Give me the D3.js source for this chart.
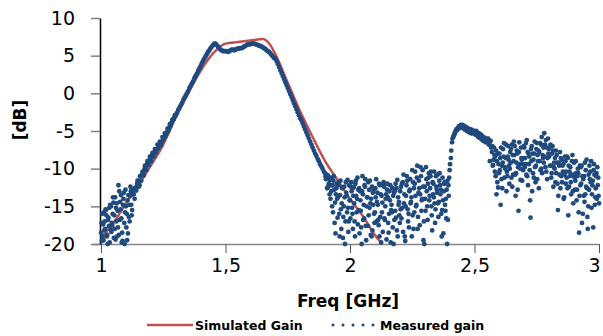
<!DOCTYPE html>
<html>
<head>
  <meta charset="UTF-8">
  <title>Gain vs frequency</title>
  <script src="https://d3js.org/d3.v7.min.js"></script>
  <style>
    body { margin: 0; background: #ffffff; }
    .tick text { font-family: "DejaVu Sans", sans-serif; font-size: 19px; fill: #000; }
  </style>
</head>
<body>
  <svg id="svg1" width="603" height="336"></svg>

  <script>
    // simulated gain (smooth curve)
    const simFreq = [1.00, 1.05, 1.10, 1.15, 1.20, 1.25, 1.30, 1.35, 1.40, 1.45, 1.50, 1.55, 1.60, 1.65, 1.68, 1.70, 1.75, 1.80, 1.85, 1.90, 1.95, 2.00, 2.05, 2.10, 2.13];
    const simGain = [-19.2, -17.2, -14.6, -12.2, -9.6, -6.8, -3.2, 0.0, 3.0, 5.3, 6.6, 6.8, 7.0, 7.2, 6.4, 5.2, 1.4, -2.4, -5.8, -9.0, -11.5, -14.0, -16.2, -18.8, -20.0];

    // measured gain, one value every 5 MHz from 1.000 to 3.000 GHz (one row = 100 MHz)
    const measGain = [
      -18.5, -16.0, -19.5, -17.0, -15.5, -18.8, -16.5, -19.8, -15.0, -17.5, -14.5, -18.0, -15.2, -19.0, -12.2, -16.8, -13.5, -18.5, -14.0, -20.0,
      -15.0, -19.5, -13.5, -17.0, -13.0, -15.5, -12.8, -14.0, -12.5, -12.0, -11.6, -12.2, -11.0, -10.8, -10.6, -10.0, -9.9, -9.4, -9.0, -8.8,
      -8.7, -8.2, -8.3, -7.8, -7.9, -7.4, -7.3, -6.9, -6.9, -6.4, -6.2, -5.8, -5.6, -5.2, -5.0, -4.5, -4.3, -3.8, -3.5, -3.2,
      -2.9, -2.6, -2.2, -1.9, -1.6, -1.3, -0.9, -0.6, -0.3, 0.0, 0.3, 0.7, 1.0, 1.3, 1.6, 2.0, 2.3, 2.6, 3.0, 3.3,
      3.6, 4.0, 4.3, 4.6, 4.9, 5.2, 5.5, 5.7, 6.0, 6.2, 6.4, 6.6, 6.6, 6.4, 6.2, 6.0, 5.8, 5.7, 5.6, 5.6,
      5.6, 5.6, 5.5, 5.6, 5.7, 5.8, 5.8, 5.7, 5.8, 5.9, 5.9, 6.0, 6.0, 6.0, 6.1, 6.2, 6.3, 6.4, 6.5, 6.5,
      6.5, 6.6, 6.6, 6.6, 6.5, 6.5, 6.4, 6.3, 6.3, 6.2, 6.1, 6.0, 5.9, 5.7, 5.6, 5.5, 5.3, 5.1, 4.9, 4.7,
      4.6, 4.3, 3.9, 3.5, 3.1, 2.7, 2.3, 1.9, 1.5, 1.1, 0.7, 0.3, -0.1, -0.5, -0.9, -1.3, -1.7, -2.1, -2.5, -2.9,
      -3.3, -3.6, -4.0, -4.4, -4.8, -5.2, -5.6, -6.0, -6.4, -6.8, -7.2, -7.6, -8.0, -8.3, -8.7, -9.0, -9.4, -9.7, -10.0, -10.4,
      -10.6, -11.2, -10.9, -12.0, -11.5, -13.0, -12.2, -11.0, -14.5, -12.6, -16.5, -11.8, -13.5, -18.0, -12.5, -15.0, -20.0, -13.2, -11.5, -17.0,
      -14.2, -11.8, -16.0, -12.5, -19.0, -13.6, -11.2, -15.5, -13.0, -17.8, -11.0, -14.8, -12.4, -19.5, -13.8, -16.2, -11.6, -14.0, -18.2, -12.8,
      -15.8, -11.4, -13.2, -17.5, -12.2, -19.8, -14.5, -11.8, -16.8, -13.4, -12.0, -18.5, -14.2, -15.5, -12.6, -20.0, -13.0, -16.5, -11.5, -14.8,
      -17.2, -12.4, -15.2, -10.8, -19.0, -13.6, -11.6, -16.0, -12.8, -14.4, -10.2, -18.0, -12.0, -15.0, -9.6, -13.2, -17.5, -11.0, -14.0, -19.5,
      -12.4, -9.8, -15.0, -11.2, -13.6, -10.4, -18.2, -12.0, -14.6, -11.0, -13.2, -16.4, -10.6, -12.8, -15.5, -18.6, -11.8, -14.0, -20.0, -12.2,
      -10.2, -8.6, -6.5, -5.8, -5.4, -5.0, -4.9, -4.6, -4.4, -4.2, -4.5, -4.3, -4.8, -4.5, -5.0, -4.7, -5.2, -4.8, -5.3, -5.0,
      -5.1, -5.5, -5.2, -5.8, -5.4, -6.0, -5.7, -6.3, -5.9, -6.5, -6.2, -6.0, -6.6, -6.3, -7.8, -9.5, -8.2, -11.0, -9.0, -12.5,
      -8.0, -14.8, -9.6, -7.4, -11.2, -8.6, -10.4, -7.0, -12.0, -9.2, -6.8, -10.8, -8.2, -13.6, -7.6, -9.8, -6.5, -11.5, -8.8, -10.2,
      -7.2, -9.4, -6.2, -12.2, -8.4, -16.5, -7.0, -10.6, -8.0, -11.8, -6.6, -9.0, -7.8, -10.2, -5.8, -8.6, -5.3, -9.8, -7.2, -6.0,
      -8.4, -6.8, -10.6, -7.6, -9.2, -11.8, -8.2, -15.5, -9.6, -12.6, -8.8, -10.4, -13.8, -9.0, -11.2, -8.6, -12.4, -9.8, -10.8, -13.0,
      -9.2, -11.6, -14.2, -10.0, -18.5, -12.2, -9.6, -16.0, -11.0, -13.4, -8.8, -18.0, -12.8, -10.4, -15.2, -11.6, -9.4, -13.8, -10.6, -12.2,
      -14.6
    ];

    // extra measured samples in between (the sweep is denser than 5 MHz), 5 MHz apart from their start
    const lowA2 = [-17.2, -19.0, -15.8, -18.0, -16.2, -20.0, -17.6, -14.8, -18.4, -16.0, -19.2, -13.8, -17.0, -15.6, -18.8, -14.4, -16.6, -19.6, -13.2, -15.8, -17.8, -14.2, -16.4, -13.6, -14.8, -13.4];
    const lowA3 = [-19.6, -17.4, -18.2, -15.4, -19.0, -16.8, -15.2, -18.0, -17.2, -13.8, -16.2, -19.4, -14.6, -17.8, -13.0, -15.4, -19.8, -14.8, -17.2, -12.8, -16.0, -18.6, -14.8, -12.4, -16.2, -13.0];
    const riseR2 = [-13.4, -12.6, -12.9, -11.6, -12.4, -11.0, -11.6, -10.4, -10.9, -9.6, -10.2, -9.0, -9.5, -8.4, -9.0, -7.9, -8.4, -7.4, -7.6, -6.8,
      -7.0, -6.4, -6.5, -5.8, -6.0, -5.3, -5.4, -4.7, -4.8, -4.1, -4.0, -3.5, -3.4, -2.9];
    const noiseB2 = [
      -11.0, -10.8, -12.4, -11.4, -14.0, -11.2, -15.8, -12.8, -18.6, -12.0, -13.8, -16.0, -11.6, -14.6, -19.2, -12.4, -17.0, -13.6, -15.2, -12.2,
      -16.6, -13.0, -18.0, -14.6, -12.0, -15.8, -17.4, -12.6, -14.2, -20.0, -13.4, -16.6, -11.4, -15.0, -17.6, -12.8, -14.6, -19.0, -13.2, -16.0,
      -12.6, -17.0, -14.8, -12.0, -16.4, -13.6, -18.4, -12.4, -15.0, -19.4, -13.8, -16.0, -12.2, -14.8, -17.8, -13.2, -15.6, -12.6, -19.0, -14.4,
      -13.0, -16.6, -11.8, -14.6, -19.6, -12.2, -15.4, -17.8, -11.4, -13.8, -16.2, -12.6, -10.4, -14.8, -18.0, -11.6, -13.4, -15.6, -10.2, -17.0,
      -14.0, -11.4, -16.8, -10.6, -12.6, -15.0, -11.8, -13.8, -17.2, -12.4, -10.8, -14.4, -12.2, -16.0, -11.2, -13.0, -14.8, -16.6, -11.6, -13.6
    ];
    const noiseB3 = [
      -11.4, -12.6, -11.0, -13.4, -12.2, -15.0, -11.6, -17.2, -13.4, -14.0, -12.2, -19.0, -15.4, -12.6, -16.4, -13.8, -11.8, -15.8, -18.4, -14.2,
      -12.4, -15.2, -13.6, -17.0, -11.6, -14.0, -12.8, -18.6, -15.6, -13.0, -16.8, -12.2, -17.6, -13.8, -11.8, -15.2, -18.8, -12.4, -14.8, -17.2,
      -13.8, -14.4, -16.8, -19.0, -13.4, -15.8, -12.2, -16.6, -14.0, -12.8, -17.2, -13.0, -19.8, -15.8, -13.6, -16.8, -12.0, -18.2, -13.8, -16.2,
      -15.4, -12.0, -18.4, -13.4, -15.0, -11.0, -17.0, -13.0, -14.6, -19.0, -11.8, -15.8, -13.6, -11.2, -16.4, -12.6, -9.8, -14.2, -12.4, -20.0,
      -15.6, -13.0, -12.0, -14.2, -11.0, -16.2, -13.4, -10.4, -15.4, -12.8, -14.6, -11.6, -13.4, -19.0, -14.2, -12.0, -15.6, -12.8, -16.8, -11.2
    ];
    const plateauP2 = [-9.4, -7.6, -6.0, -5.6, -5.2, -4.8, -4.7, -4.4, -4.6, -4.3, -4.2, -4.6, -4.4, -4.9, -4.6, -5.1, -4.8, -5.3, -4.9, -5.2,
      -5.4, -5.0, -5.6, -5.3, -5.9, -5.5, -6.2, -5.8, -6.4, -6.0, -6.4, -6.8, -9.0, -7.2];
    const noiseC2 = [
      -7.0, -8.8, -10.4, -7.6, -11.8, -9.4,
      -10.2, -7.2, -12.6, -8.4, -9.8, -6.8, -11.0, -8.8, -10.0, -7.4, -12.4, -9.0, -7.0, -10.6, -8.0, -15.6, -9.4, -7.2, -11.6, -8.6,
      -9.8, -6.6, -11.0, -8.0, -10.2, -7.4, -13.0, -8.8, -6.4, -9.6, -11.4, -7.6, -9.0, -6.8, -10.6, -7.2, -8.4, -6.2, -11.4, -8.0,
      -7.2, -9.6, -8.0, -12.4, -10.0, -7.6, -9.2, -13.6, -10.8, -8.6, -11.8, -9.4, -10.8, -12.0, -8.4, -16.2, -10.4, -11.8, -9.0, -14.6,
      -11.2, -9.0, -12.8, -10.6, -13.6, -9.8, -17.2, -11.4, -14.4, -10.2, -12.6, -15.0, -9.6, -11.8, -13.4, -17.8, -10.8, -12.6, -14.0, -11.2
    ];
    const noiseC3 = [
      -9.6, -7.2, -8.4, -13.4, -8.0, -10.6,
      -8.6, -11.4, -9.2, -6.6, -10.0, -13.0, -8.4, -9.6, -7.8, -11.2, -8.2, -6.4, -10.8, -9.2, -12.8, -7.8, -10.0, -8.6, -9.4, -7.0,
      -8.6, -10.8, -7.8, -9.4, -14.2, -9.0, -8.0, -11.2, -9.8, -7.4, -8.2, -12.6, -6.6, -10.0, -8.2, -9.2, -6.8, -10.4, -8.6, -7.4,
      -9.6, -11.2, -7.0, -9.8, -8.6, -10.6, -12.0, -9.2, -7.8, -11.0, -9.6, -14.0, -8.4, -10.4, -12.6, -9.6, -11.0, -13.4, -8.2, -10.8,
      -12.8, -10.6, -11.0, -15.8, -9.6, -12.0, -11.0, -13.6, -9.2, -12.4, -16.4, -10.8, -11.4, -9.0, -12.2, -10.2, -14.8, -11.0, -9.8, -13.6
    ];

    // start frequency [GHz] of each measured block
    const measBlocks = [
      [1.0, measGain], [1.0017, lowA2], [1.0033, lowA3], [1.1317, riseR2],
      [1.9017, noiseB2], [1.9033, noiseB3], [2.4017, plateauP2],
      [2.5717, noiseC2], [2.5733, noiseC3]
    ];
    const measStep = 0.005;

    const xTicks = [1, 1.5, 2, 2.5, 3];
    const yTicks = [-20, -15, -10, -5, 0, 5, 10];

    const svg1 = d3.select("#svg1");
    const red = "#c0504d";
    const blue = "#1f4a7e";

    const xScale = d3.scaleLinear([1, 3], [101, 599]);
    const yScale = d3.scaleLinear([-20, 10], [244, 18]);

    const measured = [];
    measBlocks.forEach(([start, vals]) => {
      vals.forEach((g, i) => measured.push({ f: start + i * measStep, g: g }));
    });
    const simulated = simFreq.map((f, i) => ({ f: f, g: simGain[i] }));

    // x axis (grey, at -20)
    const bottomAxis = d3.axisBottom(xScale)
      .tickValues(xTicks)
      .tickSizeInner(9)
      .tickSizeOuter(0)
      .tickPadding(6)
      .tickFormat(d => String(d).replace(".", ","));
    const gx = svg1.append("g")
      .attr("class", "x axis")
      .attr("transform", `translate(0, ${yScale(-20)})`)
      .call(bottomAxis);
    gx.select(".domain").attr("stroke", "#868686").attr("stroke-width", 1.5)
      .attr("d", `M93,0.5H${xScale(3)}`);
    gx.selectAll(".tick line").attr("stroke", "#555");
    gx.selectAll(".tick text").filter(d => d === 3).attr("dx", -5);

    // y axis
    const leftAxis = d3.axisLeft(yScale)
      .tickValues(yTicks)
      .tickSizeInner(9)
      .tickSizeOuter(0)
      .tickPadding(16)
      .tickFormat(d => String(d));
    const gy = svg1.append("g")
      .attr("class", "y axis")
      .attr("transform", `translate(${xScale(1) - 1}, 0)`)
      .call(leftAxis);
    gy.select(".domain").attr("stroke", "#000").attr("stroke-width", 1.5);
    gy.selectAll(".tick line").attr("stroke", "#7f7f7f").attr("stroke-width", 1.5);

    // series
    const line = d3.line()
      .x(d => xScale(d.f))
      .y(d => yScale(d.g))
      .curve(d3.curveMonotoneX);

    svg1.append("path")
      .attr("d", line(simulated))
      .attr("fill", "none")
      .attr("stroke", red)
      .attr("stroke-width", 2.5);

    svg1.append("g").selectAll("circle")
      .data(measured)
      .join("circle")
      .attr("cx", d => xScale(d.f))
      .attr("cy", d => yScale(d.g))
      .attr("r", 2.4)
      .attr("fill", blue);

    // axis titles
    svg1.append("text")
      .attr("x", 348)
      .attr("y", 307)
      .attr("text-anchor", "middle")
      .style("font-family", "DejaVu Sans, sans-serif")
      .style("font-weight", "bold")
      .style("font-size", "17px")
      .text("Freq [GHz]");

    svg1.append("text")
      .attr("transform", "translate(26, 120) rotate(-90)")
      .attr("text-anchor", "middle")
      .style("font-family", "DejaVu Sans, sans-serif")
      .style("font-weight", "bold")
      .style("font-size", "17px")
      .text("[dB]");

    // legend
    const legend = svg1.append("g").attr("transform", "translate(0, 325)");
    legend.append("line")
      .attr("x1", 147).attr("x2", 193)
      .attr("y1", 0).attr("y2", 0)
      .attr("stroke", red).attr("stroke-width", 2.5);
    legend.append("text")
      .attr("x", 195).attr("y", 4.5)
      .style("font-family", "DejaVu Sans, sans-serif")
      .style("font-weight", "bold")
      .style("font-size", "12.5px")
      .text("Simulated Gain");
    legend.append("line")
      .attr("x1", 333).attr("x2", 374)
      .attr("y1", 0).attr("y2", 0)
      .attr("stroke", blue).attr("stroke-width", 3)
      .attr("stroke-dasharray", "0 10")
      .attr("stroke-linecap", "round");
    legend.append("text")
      .attr("x", 380).attr("y", 4.5)
      .style("font-family", "DejaVu Sans, sans-serif")
      .style("font-weight", "bold")
      .style("font-size", "12.5px")
      .text("Measured gain");
  </script>
</body>
</html>
